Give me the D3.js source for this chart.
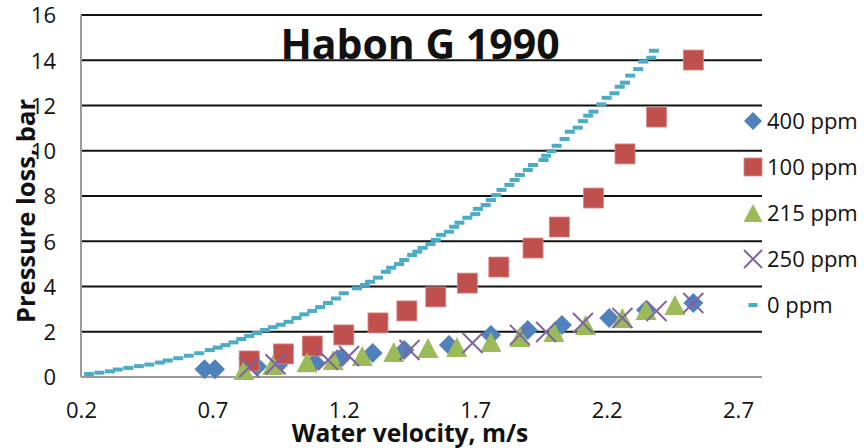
<!DOCTYPE html>
<html>
<head>
<meta charset="utf-8">
<script src="https://cdn.jsdelivr.net/npm/d3@7"></script>
<style>
  html, body { margin: 0; padding: 0; background: #fff; }
  svg { display: block; font-family: "Open Sans", sans-serif; }
</style>
</head>
<body>
<svg id="chart" width="864" height="448"></svg>
<script>
// ---- data ----
const xTicks = [0.2, 0.7, 1.2, 1.7, 2.2, 2.7];
const yTicks = [0, 2, 4, 6, 8, 10, 12, 14, 16];
const seriesNames = ["400 ppm", "100 ppm", "215 ppm", "250 ppm", "0 ppm"];
const seriesColors = ["#4f81bd", "#c0504d", "#9bbb59", "#8064a2", "#4bacc6"];

const ppm400X = [0.67, 0.71, 0.87, 0.95, 1.09, 1.19, 1.31, 1.43, 1.60, 1.76, 1.90, 2.03, 2.21, 2.35, 2.53];
const ppm400Y = [0.34, 0.34, 0.46, 0.53, 0.64, 0.84, 1.06, 1.19, 1.41, 1.86, 2.08, 2.30, 2.61, 2.96, 3.27];

const ppm100X = [0.84, 0.97, 1.08, 1.20, 1.33, 1.44, 1.55, 1.67, 1.79, 1.92, 2.02, 2.15, 2.27, 2.39, 2.53];
const ppm100Y = [0.71, 1.02, 1.37, 1.86, 2.39, 2.92, 3.54, 4.15, 4.86, 5.70, 6.63, 7.91, 9.86, 11.49, 14.01];

const ppm215X = [0.82, 0.93, 1.06, 1.16, 1.27, 1.39, 1.52, 1.63, 1.76, 1.87, 2.00, 2.12, 2.26, 2.35, 2.46];
const ppm215Y = [0.31, 0.53, 0.65, 0.75, 0.93, 1.10, 1.28, 1.33, 1.55, 1.77, 1.99, 2.30, 2.61, 2.96, 3.18];

const ppm250X = [0.84, 0.94, 1.14, 1.22, 1.45, 1.69, 1.87, 1.97, 2.11, 2.26, 2.39, 2.53];
const ppm250Y = [0.43, 0.56, 0.75, 0.93, 1.19, 1.50, 1.86, 1.99, 2.39, 2.61, 2.92, 3.27];

const ppm0X = [0.23, 0.27, 0.31, 0.34, 0.38, 0.42, 0.46, 0.50, 0.53, 0.57, 0.61, 0.65,
  0.69, 0.72, 0.75, 0.78, 0.81, 0.84, 0.87, 0.90, 0.93, 0.96, 0.99, 1.02, 1.05, 1.08, 1.11, 1.14, 1.17,
  1.20, 1.25, 1.28, 1.30, 1.33,
  1.36, 1.38, 1.41, 1.43, 1.46, 1.48, 1.50, 1.53, 1.55, 1.57, 1.60, 1.62, 1.64, 1.67, 1.70, 1.71,
  1.74, 1.76, 1.78, 1.80, 1.83, 1.85, 1.87, 1.90, 1.92, 1.96, 1.97, 1.99, 2.01, 2.04, 2.06, 2.09, 2.11,
  2.13, 2.15, 2.18, 2.20, 2.23, 2.25, 2.27, 2.29, 2.32, 2.34, 2.37, 2.38];
const ppm0Y = [0.13, 0.19, 0.25, 0.33, 0.40, 0.48, 0.55, 0.64, 0.73, 0.83, 0.94, 1.05,
  1.19, 1.30, 1.41, 1.53, 1.68, 1.81, 1.94, 2.08, 2.20, 2.31, 2.44, 2.61, 2.77, 2.92, 3.09, 3.27, 3.47,
  3.70, 3.92, 4.07, 4.21, 4.39,
  4.65, 4.83, 4.99, 5.17, 5.39, 5.54, 5.71, 5.88, 6.06, 6.28, 6.42, 6.64, 6.82, 7.04, 7.20, 7.43,
  7.60, 7.82, 8.04, 8.27, 8.49, 8.71, 8.93, 9.15, 9.37, 9.59, 9.78, 9.99, 10.22, 10.52, 10.84, 11.02, 11.31,
  11.55, 11.73, 12.05, 12.34, 12.54, 12.83, 13.01, 13.32, 13.61, 13.94, 14.11, 14.42];

// ---- layout ----
const svg = d3.select("#chart");
const x = d3.scaleLinear().domain([0.2, 2.7]).range([81, 738]);
const y = d3.scaleLinear().domain([0, 16]).range([377, 15]);
const gridRight = 762;

const zip = (xs, ys) => xs.map((v, i) => [v, ys[i]]);

// gridlines
svg.append("g").selectAll("line").data(yTicks.filter(d => d > 0)).join("line")
  .attr("x1", x(0.2)).attr("x2", gridRight)
  .attr("y1", d => y(d)).attr("y2", d => y(d))
  .attr("stroke", "#111").attr("stroke-width", 2);

// axes lines
svg.append("line").attr("x1", x(0.2)).attr("x2", gridRight).attr("y1", y(0)).attr("y2", y(0))
  .attr("stroke", "#9a9a9a").attr("stroke-width", 2);
svg.append("line").attr("x1", x(0.2)).attr("x2", x(0.2)).attr("y1", y(16)).attr("y2", y(0))
  .attr("stroke", "#9a9a9a").attr("stroke-width", 2);

// y tick labels
const yAxis = d3.axisLeft(y).tickValues(yTicks).tickSize(0).tickPadding(0).tickFormat(d3.format("d"));
const gy = svg.append("g").attr("transform", "translate(56,0)").call(yAxis);
gy.select(".domain").remove();
gy.selectAll("text").attr("font-size", 22).attr("font-family", "Open Sans").attr("fill", "#111")
  .attr("text-anchor", "end").attr("dy", "0.36em").attr("x", 0);

// x tick labels
const xAxis = d3.axisBottom(x).tickValues(xTicks).tickSize(0).tickPadding(0).tickFormat(d3.format(".1f"));
const gx = svg.append("g").attr("transform", "translate(0,410)").call(xAxis);
gx.select(".domain").remove();
gx.selectAll("text").attr("font-size", 22).attr("font-family", "Open Sans").attr("fill", "#111")
  .attr("dy", "0.36em").attr("y", 0);

// markers
const S = 20;
const gD = svg.append("g");
gD.selectAll("path").data(zip(ppm400X, ppm400Y)).join("path")
  .attr("d", () => { const h = S / 2; return `M0,${-h}L${h},0L0,${h}L${-h},0Z`; })
  .attr("transform", d => `translate(${x(d[0])},${y(d[1])})`)
  .attr("fill", seriesColors[0]);

const gS = svg.append("g");
gS.selectAll("rect").data(zip(ppm100X, ppm100Y)).join("rect")
  .attr("x", d => x(d[0]) - 10).attr("y", d => y(d[1]) - 10)
  .attr("width", 20).attr("height", 20)
  .attr("fill", seriesColors[1]).attr("stroke", "#d98b89").attr("stroke-width", 0.8);

const gT = svg.append("g");
gT.selectAll("path").data(zip(ppm215X, ppm215Y)).join("path")
  .attr("d", "M0,-10L10.5,10L-10.5,10Z")
  .attr("transform", d => `translate(${x(d[0])},${y(d[1])})`)
  .attr("fill", seriesColors[2]);

const gX = svg.append("g");
gX.selectAll("path").data(zip(ppm250X, ppm250Y)).join("path")
  .attr("d", "M-10,-10L10,10M10,-10L-10,10")
  .attr("transform", d => `translate(${x(d[0])},${y(d[1])})`)
  .attr("stroke", seriesColors[3]).attr("stroke-width", 2).attr("fill", "none");

const g0 = svg.append("g");
g0.selectAll("rect").data(zip(ppm0X, ppm0Y)).join("rect")
  .attr("x", d => x(d[0]) - 5).attr("y", d => y(d[1]) - 2)
  .attr("width", 10).attr("height", 4)
  .attr("fill", seriesColors[4]);

// title
svg.append("text").attr("x", 420).attr("y", 44).attr("dy", "0.36em")
  .attr("text-anchor", "middle").attr("font-size", 41).attr("font-weight", "bold")
  .attr("fill", "#111").text("Habon G 1990");

// axis titles
svg.append("text").attr("x", 410).attr("y", 442)
  .attr("text-anchor", "middle").attr("font-size", 24.5).attr("font-weight", "bold")
  .attr("fill", "#111").text("Water velocity, m/s");
svg.append("text").attr("transform", "translate(35,211) rotate(-90)")
  .attr("text-anchor", "middle").attr("font-size", 25.5).attr("font-weight", "bold")
  .attr("fill", "#111").text("Pressure loss, bar");

// legend
const legY = [121, 167, 213, 259, 305];
const leg = svg.append("g");
const items = leg.selectAll("g").data(seriesNames).join("g")
  .attr("transform", (d, i) => `translate(753,${legY[i]})`);
items.each(function(d, i) {
  const g = d3.select(this);
  if (i === 0) g.append("path").attr("d", "M0,-9L9,0L0,9L-9,0Z").attr("fill", seriesColors[0]);
  if (i === 1) g.append("rect").attr("x", -9).attr("y", -9).attr("width", 18).attr("height", 18)
    .attr("fill", seriesColors[1]).attr("stroke", "#d98b89").attr("stroke-width", 0.8);
  if (i === 2) g.append("path").attr("d", "M0,-9L9.5,9L-9.5,9Z").attr("fill", seriesColors[2]);
  if (i === 3) g.append("path").attr("d", "M-9,-9L9,9M9,-9L-9,9").attr("stroke", seriesColors[3])
    .attr("stroke-width", 2).attr("fill", "none");
  if (i === 4) g.append("rect").attr("x", -4.5).attr("y", -2).attr("width", 9).attr("height", 4)
    .attr("fill", seriesColors[4]);
  g.append("text").attr("x", 14).attr("dy", "0.36em").attr("font-size", 22)
    .attr("fill", "#111").text(d);
});
</script>
</body>
</html>
